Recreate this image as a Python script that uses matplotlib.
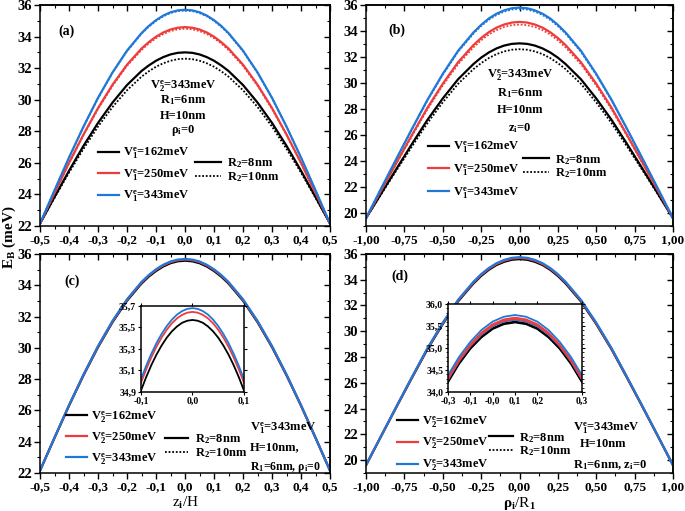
import matplotlib
matplotlib.use('Agg')
import matplotlib.pyplot as plt
from matplotlib.lines import Line2D
from matplotlib.ticker import MultipleLocator

plt.rcParams['font.family'] = 'Liberation Serif'
plt.rcParams['font.weight'] = 'bold'
plt.rcParams['mathtext.fontset'] = 'custom'
plt.rcParams['mathtext.rm'] = 'Liberation Serif:bold'
plt.rcParams['mathtext.it'] = 'Liberation Serif:bold'
plt.rcParams['mathtext.bf'] = 'Liberation Serif:bold'
plt.rcParams['axes.linewidth'] = 1.1

## x grids (denser near the maximum)
x_zh = [-0.5, -0.45, -0.4, -0.35, -0.3, -0.25, -0.2, -0.15, -0.125, -0.1, -0.075, -0.05, -0.025, 0.0,
        0.025, 0.05, 0.075, 0.1, 0.125, 0.15, 0.2, 0.25, 0.3, 0.35, 0.4, 0.45, 0.5]
x_rho = [-1.0, -0.9, -0.8, -0.7, -0.6, -0.5, -0.4, -0.3, -0.25, -0.2, -0.15, -0.1, -0.05, 0.0,
         0.05, 0.1, 0.15, 0.2, 0.25, 0.3, 0.4, 0.5, 0.6, 0.7, 0.8, 0.9, 1.0]
x_inset_c = [-0.1, -0.09, -0.08, -0.07, -0.06, -0.05, -0.04, -0.03, -0.02, -0.01, 0.0,
             0.01, 0.02, 0.03, 0.04, 0.05, 0.06, 0.07, 0.08, 0.09, 0.1]
x_inset_d = [-0.3, -0.25, -0.2, -0.15, -0.1, -0.05, 0.0, 0.05, 0.1, 0.15, 0.2, 0.25, 0.3]

## panel (a): E_B vs z_i/H, R2 = 8nm (solid) and 10nm (dotted)
a_black_8 = [22.15, 23.84, 25.50, 27.08, 28.53, 29.82, 30.93, 31.82, 32.17, 32.47, 32.70, 32.87, 32.97, 33.00,
             32.97, 32.87, 32.70, 32.47, 32.17, 31.82, 30.93, 29.82, 28.53, 27.08, 25.50, 23.84, 22.15]
a_black_10 = [22.15, 23.78, 25.38, 26.89, 28.30, 29.54, 30.60, 31.46, 31.80, 32.09, 32.31, 32.47, 32.57, 32.60,
              32.57, 32.47, 32.31, 32.09, 31.80, 31.46, 30.60, 29.54, 28.30, 26.89, 25.38, 23.78, 22.15]
a_red_8 = [22.15, 24.09, 26.00, 27.80, 29.47, 30.95, 32.22, 33.24, 33.65, 33.99, 34.26, 34.45, 34.56, 34.60,
           34.56, 34.45, 34.26, 33.99, 33.65, 33.24, 32.22, 30.95, 29.47, 27.80, 26.00, 24.09, 22.15]
a_red_10 = [22.15, 24.08, 25.97, 27.76, 29.41, 30.88, 32.14, 33.15, 33.56, 33.90, 34.16, 34.35, 34.46, 34.50,
            34.46, 34.35, 34.16, 33.90, 33.56, 33.15, 32.14, 30.88, 29.41, 27.76, 25.97, 24.08, 22.15]
a_blue_8 = [22.15, 24.26, 26.34, 28.30, 30.12, 31.73, 33.11, 34.22, 34.67, 35.04, 35.33, 35.54, 35.66, 35.70,
            35.66, 35.54, 35.33, 35.04, 34.67, 34.22, 33.11, 31.73, 30.12, 28.30, 26.34, 24.26, 22.15]
a_blue_10 = [22.15, 24.26, 26.32, 28.28, 30.09, 31.70, 33.07, 34.18, 34.62, 34.99, 35.28, 35.49, 35.61, 35.65,
             35.61, 35.49, 35.28, 34.99, 34.62, 34.18, 33.07, 31.70, 30.09, 28.28, 26.32, 24.26, 22.15]

## panel (b): E_B vs rho_i/R1
b_black_8 = [19.60, 21.52, 23.43, 25.32, 27.16, 28.81, 30.29, 31.46, 31.95, 32.35, 32.66, 32.88, 33.01, 33.05,
             33.01, 32.88, 32.66, 32.35, 31.95, 31.46, 30.29, 28.81, 27.16, 25.32, 23.43, 21.52, 19.60]
b_black_10 = [19.60, 21.46, 23.31, 25.13, 26.91, 28.51, 29.94, 31.07, 31.53, 31.92, 32.22, 32.43, 32.56, 32.60,
              32.56, 32.43, 32.22, 31.92, 31.53, 31.07, 29.94, 28.51, 26.91, 25.13, 23.31, 21.46, 19.60]
b_red_8 = [19.60, 21.76, 23.90, 26.02, 28.09, 29.94, 31.60, 32.92, 33.46, 33.91, 34.26, 34.50, 34.65, 34.70,
           34.65, 34.50, 34.26, 33.91, 33.46, 32.92, 31.60, 29.94, 28.09, 26.02, 23.90, 21.76, 19.60]
b_red_10 = [19.60, 21.73, 23.85, 25.93, 27.97, 29.81, 31.45, 32.74, 33.28, 33.73, 34.07, 34.31, 34.45, 34.50,
            34.45, 34.31, 34.07, 33.73, 33.28, 32.74, 31.45, 29.81, 27.97, 25.93, 23.85, 21.73, 19.60]
b_blue_8 = [19.60, 21.92, 24.22, 26.49, 28.70, 30.70, 32.48, 33.89, 34.47, 34.96, 35.33, 35.59, 35.75, 35.80,
            35.75, 35.59, 35.33, 34.96, 34.47, 33.89, 32.48, 30.70, 28.70, 26.49, 24.22, 21.92, 19.60]
b_blue_10 = [19.60, 21.90, 24.19, 26.44, 28.65, 30.63, 32.40, 33.80, 34.38, 34.86, 35.23, 35.49, 35.65, 35.70,
             35.65, 35.49, 35.23, 34.86, 34.38, 33.80, 32.40, 30.63, 28.65, 26.44, 24.19, 21.90, 19.60]

## panel (c): V2 varied, curves nearly overlap
c_black = [22.15, 24.24, 26.30, 28.24, 30.04, 31.64, 33.01, 34.11, 34.55, 34.91, 35.20, 35.41, 35.53, 35.57,
           35.53, 35.41, 35.20, 34.91, 34.55, 34.11, 33.01, 31.64, 30.04, 28.24, 26.30, 24.24, 22.15]
c_red = [22.15, 24.26, 26.32, 28.28, 30.09, 31.69, 33.07, 34.17, 34.62, 34.98, 35.27, 35.48, 35.60, 35.645,
         35.60, 35.48, 35.27, 34.98, 34.62, 34.17, 33.07, 31.69, 30.09, 28.28, 26.32, 24.26, 22.15]
c_blue = [22.15, 24.26, 26.33, 28.29, 30.11, 31.72, 33.10, 34.21, 34.65, 35.02, 35.31, 35.52, 35.64, 35.68,
          35.64, 35.52, 35.31, 35.02, 34.65, 34.21, 33.10, 31.72, 30.11, 28.29, 26.33, 24.26, 22.15]
ci_black = [34.913, 35.037, 35.149, 35.247, 35.332, 35.405, 35.464, 35.510, 35.544, 35.563, 35.570,
            35.563, 35.544, 35.510, 35.464, 35.405, 35.332, 35.247, 35.149, 35.037, 34.913]
ci_red = [34.985, 35.109, 35.221, 35.320, 35.406, 35.479, 35.539, 35.585, 35.618, 35.638, 35.645,
          35.638, 35.618, 35.585, 35.539, 35.479, 35.406, 35.320, 35.221, 35.109, 34.985]
ci_blue = [35.018, 35.143, 35.255, 35.354, 35.440, 35.513, 35.573, 35.620, 35.653, 35.673, 35.680,
           35.673, 35.653, 35.620, 35.573, 35.513, 35.440, 35.354, 35.255, 35.143, 35.018]

## panel (d)
d_black = [19.60, 21.89, 24.16, 26.40, 28.59, 30.56, 32.32, 33.71, 34.29, 34.77, 35.14, 35.39, 35.55, 35.60,
           35.55, 35.39, 35.14, 34.77, 34.29, 33.71, 32.32, 30.56, 28.59, 26.40, 24.16, 21.89, 19.60]
d_red = [19.60, 21.90, 24.19, 26.44, 28.64, 30.62, 32.39, 33.79, 34.37, 34.85, 35.22, 35.48, 35.64, 35.69,
         35.64, 35.48, 35.22, 34.85, 34.37, 33.79, 32.39, 30.62, 28.64, 26.44, 24.19, 21.90, 19.60]
d_blue = [19.60, 21.91, 24.20, 26.46, 28.68, 30.66, 32.44, 33.84, 34.43, 34.91, 35.28, 35.54, 35.70, 35.75,
          35.70, 35.54, 35.28, 34.91, 34.43, 33.84, 32.44, 30.66, 28.68, 26.46, 24.20, 21.91, 19.60]
di_black_10 = [34.22, 34.64, 34.98, 35.24, 35.43, 35.54, 35.58, 35.54, 35.43, 35.24, 34.98, 34.64, 34.22]
di_black_8 = [34.24, 34.66, 35.00, 35.26, 35.45, 35.56, 35.60, 35.56, 35.45, 35.26, 35.00, 34.66, 34.24]
di_blue_10 = [34.28, 34.70, 35.04, 35.30, 35.49, 35.60, 35.64, 35.60, 35.49, 35.30, 35.04, 34.70, 34.28]
di_red_10 = [34.29, 34.71, 35.05, 35.32, 35.51, 35.62, 35.66, 35.62, 35.51, 35.32, 35.05, 34.71, 34.29]
di_red_8 = [34.32, 34.74, 35.08, 35.35, 35.54, 35.65, 35.69, 35.65, 35.54, 35.35, 35.08, 34.74, 34.32]
di_blue_8 = [34.38, 34.80, 35.14, 35.41, 35.60, 35.71, 35.75, 35.71, 35.60, 35.41, 35.14, 34.80, 34.38]

## ticks and labels
zh_ticks = [-0.5, -0.4, -0.3, -0.2, -0.1, 0.0, 0.1, 0.2, 0.3, 0.4, 0.5]
zh_labels = ['-0,5', '-0,4', '-0,3', '-0,2', '-0,1', '0,0', '0,1', '0,2', '0,3', '0,4', '0,5']
rho_ticks = [-1.0, -0.75, -0.5, -0.25, 0.0, 0.25, 0.5, 0.75, 1.0]
rho_labels = ['-1,00', '-0,75', '-0,50', '-0,25', '0,00', '0,25', '0,50', '0,75', '1,00']
y22_ticks = [22, 24, 26, 28, 30, 32, 34, 36]
y20_ticks = [20, 22, 24, 26, 28, 30, 32, 34, 36]
ci_xticks = [-0.1, 0.0, 0.1]
ci_xlabels = ['-0,1', '0,0', '0,1']
ci_yticks = [34.9, 35.1, 35.3, 35.5, 35.7]
ci_ylabels = ['34,9', '35,1', '35,3', '35,5', '35,7']
di_xticks = [-0.3, -0.2, -0.1, 0.0, 0.1, 0.3]
di_xlabels = ['-0,3', '-0,1', '-0,0', '0,1', '0,2', '0,3']
di_yticks = [34.0, 34.5, 35.0, 35.5, 36.0]
di_ylabels = ['34,0', '34,5', '35,0', '35,5', '36,0']

BLACK = 'black'
RED = '#ee3b3b'
BLUE = '#1f77d8'
DOT = (0, (1, 1))
LW = 1.6
LEG_FS = 9
TXT_FS = 9


def styleAxes(ax, xticks, xlabels, yticks, xminor, yminor, xs=9.5, ys=10.5):
    ax.set_xticks(xticks, xlabels)
    ax.set_yticks(yticks, [str(t) for t in yticks])
    ax.xaxis.set_minor_locator(MultipleLocator(xminor))
    ax.yaxis.set_minor_locator(MultipleLocator(yminor))
    ax.tick_params(which='both', direction='out', top=False, right=False)
    ax.tick_params(which='major', length=4, width=1.0)
    ax.tick_params(which='minor', length=2.2, width=0.8)
    ax.tick_params(axis='x', labelsize=xs, pad=2)
    ax.tick_params(axis='y', labelsize=ys, pad=2)
    ## top and right ticks point inward
    sx = ax.secondary_xaxis('top')
    sx.set_xticks(xticks)
    sx.xaxis.set_minor_locator(MultipleLocator(xminor))
    sx.tick_params(which='both', direction='in', labeltop=False)
    sx.tick_params(which='major', length=4, width=1.0)
    sx.tick_params(which='minor', length=2.2, width=0.8)
    sy = ax.secondary_yaxis('right')
    sy.set_yticks(yticks)
    sy.yaxis.set_minor_locator(MultipleLocator(yminor))
    sy.tick_params(which='both', direction='in', labelright=False)
    sy.tick_params(which='major', length=4, width=1.0)
    sy.tick_params(which='minor', length=2.2, width=0.8)


def addLegends(ax, labels, pos1, pos2, spacing1=0.5, hlen2=2.1):
    h1 = [Line2D([], [], color=c, lw=LW) for c in (BLACK, RED, BLUE)]
    leg = ax.legend(h1, labels, loc='center left', bbox_to_anchor=pos1, frameon=False,
                    fontsize=LEG_FS, handlelength=1.7, handletextpad=0.3, labelspacing=spacing1,
                    borderpad=0, borderaxespad=0)
    ax.add_artist(leg)
    h2 = [Line2D([], [], color=BLACK, lw=LW), Line2D([], [], color=BLACK, lw=1.3, ls=DOT)]
    ax.legend(h2, [r'R$_2$=8nm', r'R$_2$=10nm'], loc='center left', bbox_to_anchor=pos2,
              frameon=False, fontsize=LEG_FS, handlelength=hlen2, handletextpad=0.5,
              labelspacing=0.0, borderpad=0, borderaxespad=0)


fig = plt.figure(figsize=(6.85, 5.11), dpi=100)
axA = fig.add_axes([0.0584, 0.5577, 0.4234, 0.4325])
axB = fig.add_axes([0.5343, 0.5577, 0.4482, 0.4325])
axC = fig.add_axes([0.0584, 0.0744, 0.4234, 0.4286])
axD = fig.add_axes([0.5343, 0.0744, 0.4482, 0.4286])

v1_labels = [r'V$_1^e$=162meV', r'V$_1^e$=250meV', r'V$_1^e$=343meV']
v2_labels = [r'V$_2^e$=162meV', r'V$_2^e$=250meV', r'V$_2^e$=343meV']

## (a)
for y, c in ((a_black_10, BLACK), (a_red_10, RED), (a_blue_10, BLUE)):
    axA.plot(x_zh, y, color=c, lw=1.3, ls=DOT)
for y, c in ((a_black_8, BLACK), (a_red_8, RED), (a_blue_8, BLUE)):
    axA.plot(x_zh, y, color=c, lw=LW)
axA.set_xlim(-0.5, 0.5)
axA.set_ylim(22, 36)
styleAxes(axA, zh_ticks, zh_labels, y22_ticks, 0.05, 1)
axA.text(0.093, 0.882, '(a)', transform=axA.transAxes, fontsize=10, ha='center', va='center')
for yy, t in ((0.633, r'V$_2^e$=343meV'), (0.570, r'R$_1$=6nm'), (0.496, 'H=10nm'), (0.430, r'$\rho_i$=0')):
    axA.text(0.493, yy, t, transform=axA.transAxes, fontsize=TXT_FS, ha='center', va='center')
addLegends(axA, v1_labels, (0.2, 0.231), (0.534, 0.253))

## (b)
for y, c in ((b_black_10, BLACK), (b_red_10, RED), (b_blue_10, BLUE)):
    axB.plot(x_rho, y, color=c, lw=1.3, ls=DOT)
for y, c in ((b_black_8, BLACK), (b_red_8, RED), (b_blue_8, BLUE)):
    axB.plot(x_rho, y, color=c, lw=LW)
axB.set_xlim(-1, 1)
axB.set_ylim(19, 36)
styleAxes(axB, rho_ticks, rho_labels, y20_ticks, 0.125, 1)
axB.text(0.101, 0.887, '(b)', transform=axB.transAxes, fontsize=10, ha='center', va='center')
for yy, t in ((0.683, r'V$_2^e$=343meV'), (0.603, r'R$_1$=6nm'), (0.525, 'H=10nm'), (0.445, r'z$_i$=0')):
    axB.text(0.502, yy, t, transform=axB.transAxes, fontsize=TXT_FS, ha='center', va='center')
addLegends(axB, v1_labels, (0.202, 0.253), (0.511, 0.269), spacing1=0.6)

## (c)
for y, c in ((c_black, BLACK), (c_red, RED), (c_blue, BLUE)):
    axC.plot(x_zh, y, color=c, lw=LW)
axC.set_xlim(-0.5, 0.5)
axC.set_ylim(22, 36)
styleAxes(axC, zh_ticks, zh_labels, y22_ticks, 0.05, 1)
axC.set_xlabel(r'z$_i$/H', fontsize=11, labelpad=1)
axC.text(0.110, 0.877, '(c)', transform=axC.transAxes, fontsize=10, ha='center', va='center')
axC.text(0.724, 0.205, r'V$_1^e$=343meV', transform=axC.transAxes, fontsize=TXT_FS, va='center')
axC.text(0.724, 0.119, 'H=10nm,', transform=axC.transAxes, fontsize=TXT_FS, va='center')
axC.text(0.724, 0.023, r'R$_1$=6nm, $\rho_i$=0', transform=axC.transAxes, fontsize=8.5, va='center')
addLegends(axC, v2_labels, (0.090, 0.160), (0.43, 0.121), spacing1=0.45, hlen2=1.9)

insC = fig.add_axes([0.2058, 0.2329, 0.1504, 0.1683])
for y, c in ((ci_black, BLACK), (ci_red, RED), (ci_blue, BLUE)):
    insC.plot(x_inset_c, y, color=c, lw=1.3)
insC.set_xlim(-0.1, 0.1)
insC.set_ylim(34.9, 35.7)
insC.set_xticks(ci_xticks, ci_xlabels)
insC.set_yticks(ci_yticks, ci_ylabels)
insC.tick_params(labelsize=7, length=2.5, pad=1, top=True, right=True)

## (d)
for y, c in ((d_black, BLACK), (d_red, RED), (d_blue, BLUE)):
    axD.plot(x_rho, y, color=c, lw=LW)
axD.set_xlim(-1, 1)
axD.set_ylim(19, 36)
styleAxes(axD, rho_ticks, rho_labels, y20_ticks, 0.125, 1)
axD.set_xlabel(r'$\rho_i$/R$_1$', fontsize=11, labelpad=1)
axD.text(0.111, 0.900, '(d)', transform=axD.transAxes, fontsize=10, ha='center', va='center')
axD.text(0.674, 0.205, r'V$_1^e$=343meV', transform=axD.transAxes, fontsize=TXT_FS, va='center')
axD.text(0.697, 0.132, 'H=10nm', transform=axD.transAxes, fontsize=TXT_FS, va='center')
axD.text(0.674, 0.037, r'R$_1$=6nm, z$_i$=0', transform=axD.transAxes, fontsize=TXT_FS, va='center')
addLegends(axD, v2_labels, (0.101, 0.134), (0.40, 0.130), spacing1=0.5, hlen2=1.9)

insD = fig.add_axes([0.654, 0.2329, 0.1956, 0.1722])
for y, c in ((di_black_10, BLACK), (di_black_8, BLACK), (di_blue_10, BLUE), (di_red_10, RED),
             (di_red_8, RED), (di_blue_8, BLUE)):
    insD.plot(x_inset_d, y, color=c, lw=1.3)
insD.set_xlim(-0.3, 0.3)
insD.set_ylim(34.0, 36.0)
insD.set_xticks(di_xticks, di_xlabels)
insD.set_yticks(di_yticks, di_ylabels)
insD.yaxis.set_minor_locator(MultipleLocator(0.1))
insD.tick_params(labelsize=7, length=2.5, pad=1, top=True, right=True)
insD.tick_params(which='minor', length=1.5, right=True)

fig.text(0.014, 0.535, r'E$_B$ (meV)', rotation=90, fontsize=11, ha='center', va='center')

fig.savefig('out.png', dpi=100)
